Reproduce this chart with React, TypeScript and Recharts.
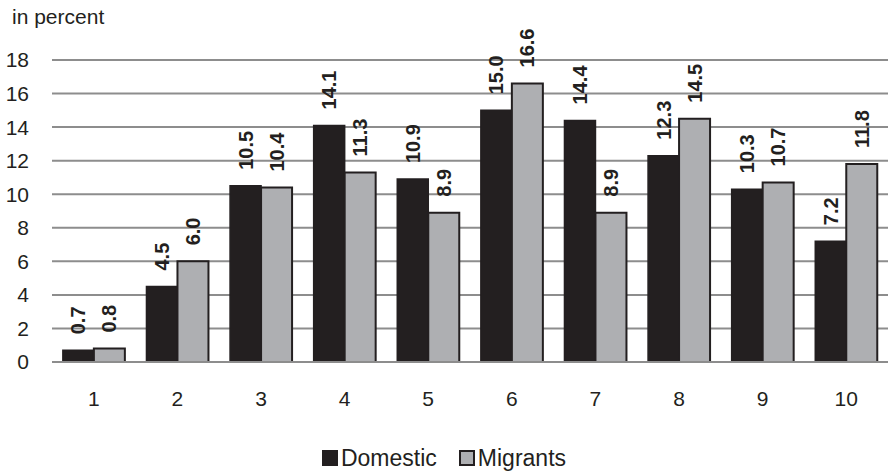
import React from "react";
import { Bar, BarChart, CartesianGrid, LabelList, Legend, XAxis, YAxis } from "recharts";

const categories = ["1", "2", "3", "4", "5", "6", "7", "8", "9", "10"];
const domestic = [0.7, 4.5, 10.5, 14.1, 10.9, 15.0, 14.4, 12.3, 10.3, 7.2];
const migrants = [0.8, 6.0, 10.4, 11.3, 8.9, 16.6, 8.9, 14.5, 10.7, 11.8];
const yTicks = [0, 2, 4, 6, 8, 10, 12, 14, 16, 18];

const FONT = "'Liberation Sans', Arial, sans-serif";
const DARK = "#231f20";
const GREY = "#aeafb2";
const GRID = "#8d8d8d";

const data = categories.map((c, i) => ({ name: c, domestic: domestic[i], migrants: migrants[i] }));

// rotated value label sitting just above the bar
function VerticalLabel(props: any) {
    const { x, y, width, value } = props;
    const cx = Number(x) + Number(width) / 2;
    const cy = Number(y) - 16;
    return (
        <text
            x={cx}
            y={cy}
            transform={`rotate(-90 ${cx} ${cy})`}
            textAnchor="start"
            dominantBaseline="central"
            fontFamily={FONT}
            fontWeight="bold"
            fontSize={20}
            fill={DARK}
        >
            {Number(value).toFixed(1)}
        </text>
    );
}

function LegendContent() {
    const items = [
        { label: "Domestic", fill: DARK },
        { label: "Migrants", fill: GREY },
    ];
    return (
        <div style={{ display: "flex", justifyContent: "center", alignItems: "center", fontFamily: FONT, fontSize: 23, color: DARK, height: 26 }}>
            {items.map((it) => (
                <div key={it.label} style={{ display: "flex", alignItems: "center", margin: "0 11px" }}>
                    <span style={{ display: "inline-block", width: 16, height: 16, background: it.fill, border: `2px solid ${DARK}`, marginRight: 3, boxSizing: "border-box" }} />
                    <span>{it.label}</span>
                </div>
            ))}
        </div>
    );
}

export default function App() {
    return (
        <div style={{ position: "absolute", left: 0, top: 0, width: 888, height: 475, background: "#fff" }}>
            <div style={{ position: "absolute", left: 12, top: 5, fontFamily: FONT, fontSize: 21, color: DARK }}>in percent</div>
            <BarChart
                width={888}
                height={475}
                data={data}
                margin={{ top: 60, right: 0, left: 0, bottom: 4 }}
                barCategoryGap="13%"
                barGap={0}
            >
                <CartesianGrid vertical={false} stroke={GRID} strokeWidth={2} />
                <XAxis
                    dataKey="name"
                    height={83}
                    tickLine={false}
                    tickMargin={23}
                    axisLine={{ stroke: GRID, strokeWidth: 2 }}
                    tick={{ fill: DARK, fontSize: 21, fontFamily: FONT }}
                />
                <YAxis
                    width={52}
                    domain={[0, 18]}
                    ticks={yTicks}
                    interval={0}
                    axisLine={false}
                    tickLine={false}
                    tickMargin={17}
                    tick={{ fill: DARK, fontSize: 21, fontFamily: FONT }}
                />
                <Legend verticalAlign="bottom" height={26} content={<LegendContent />} />
                <Bar dataKey="domestic" name="Domestic" fill={DARK} stroke={DARK} strokeWidth={1.5} isAnimationActive={false}>
                    <LabelList dataKey="domestic" content={<VerticalLabel />} />
                </Bar>
                <Bar dataKey="migrants" name="Migrants" fill={GREY} stroke={DARK} strokeWidth={2} isAnimationActive={false}>
                    <LabelList dataKey="migrants" content={<VerticalLabel />} />
                </Bar>
            </BarChart>
        </div>
    );
}
